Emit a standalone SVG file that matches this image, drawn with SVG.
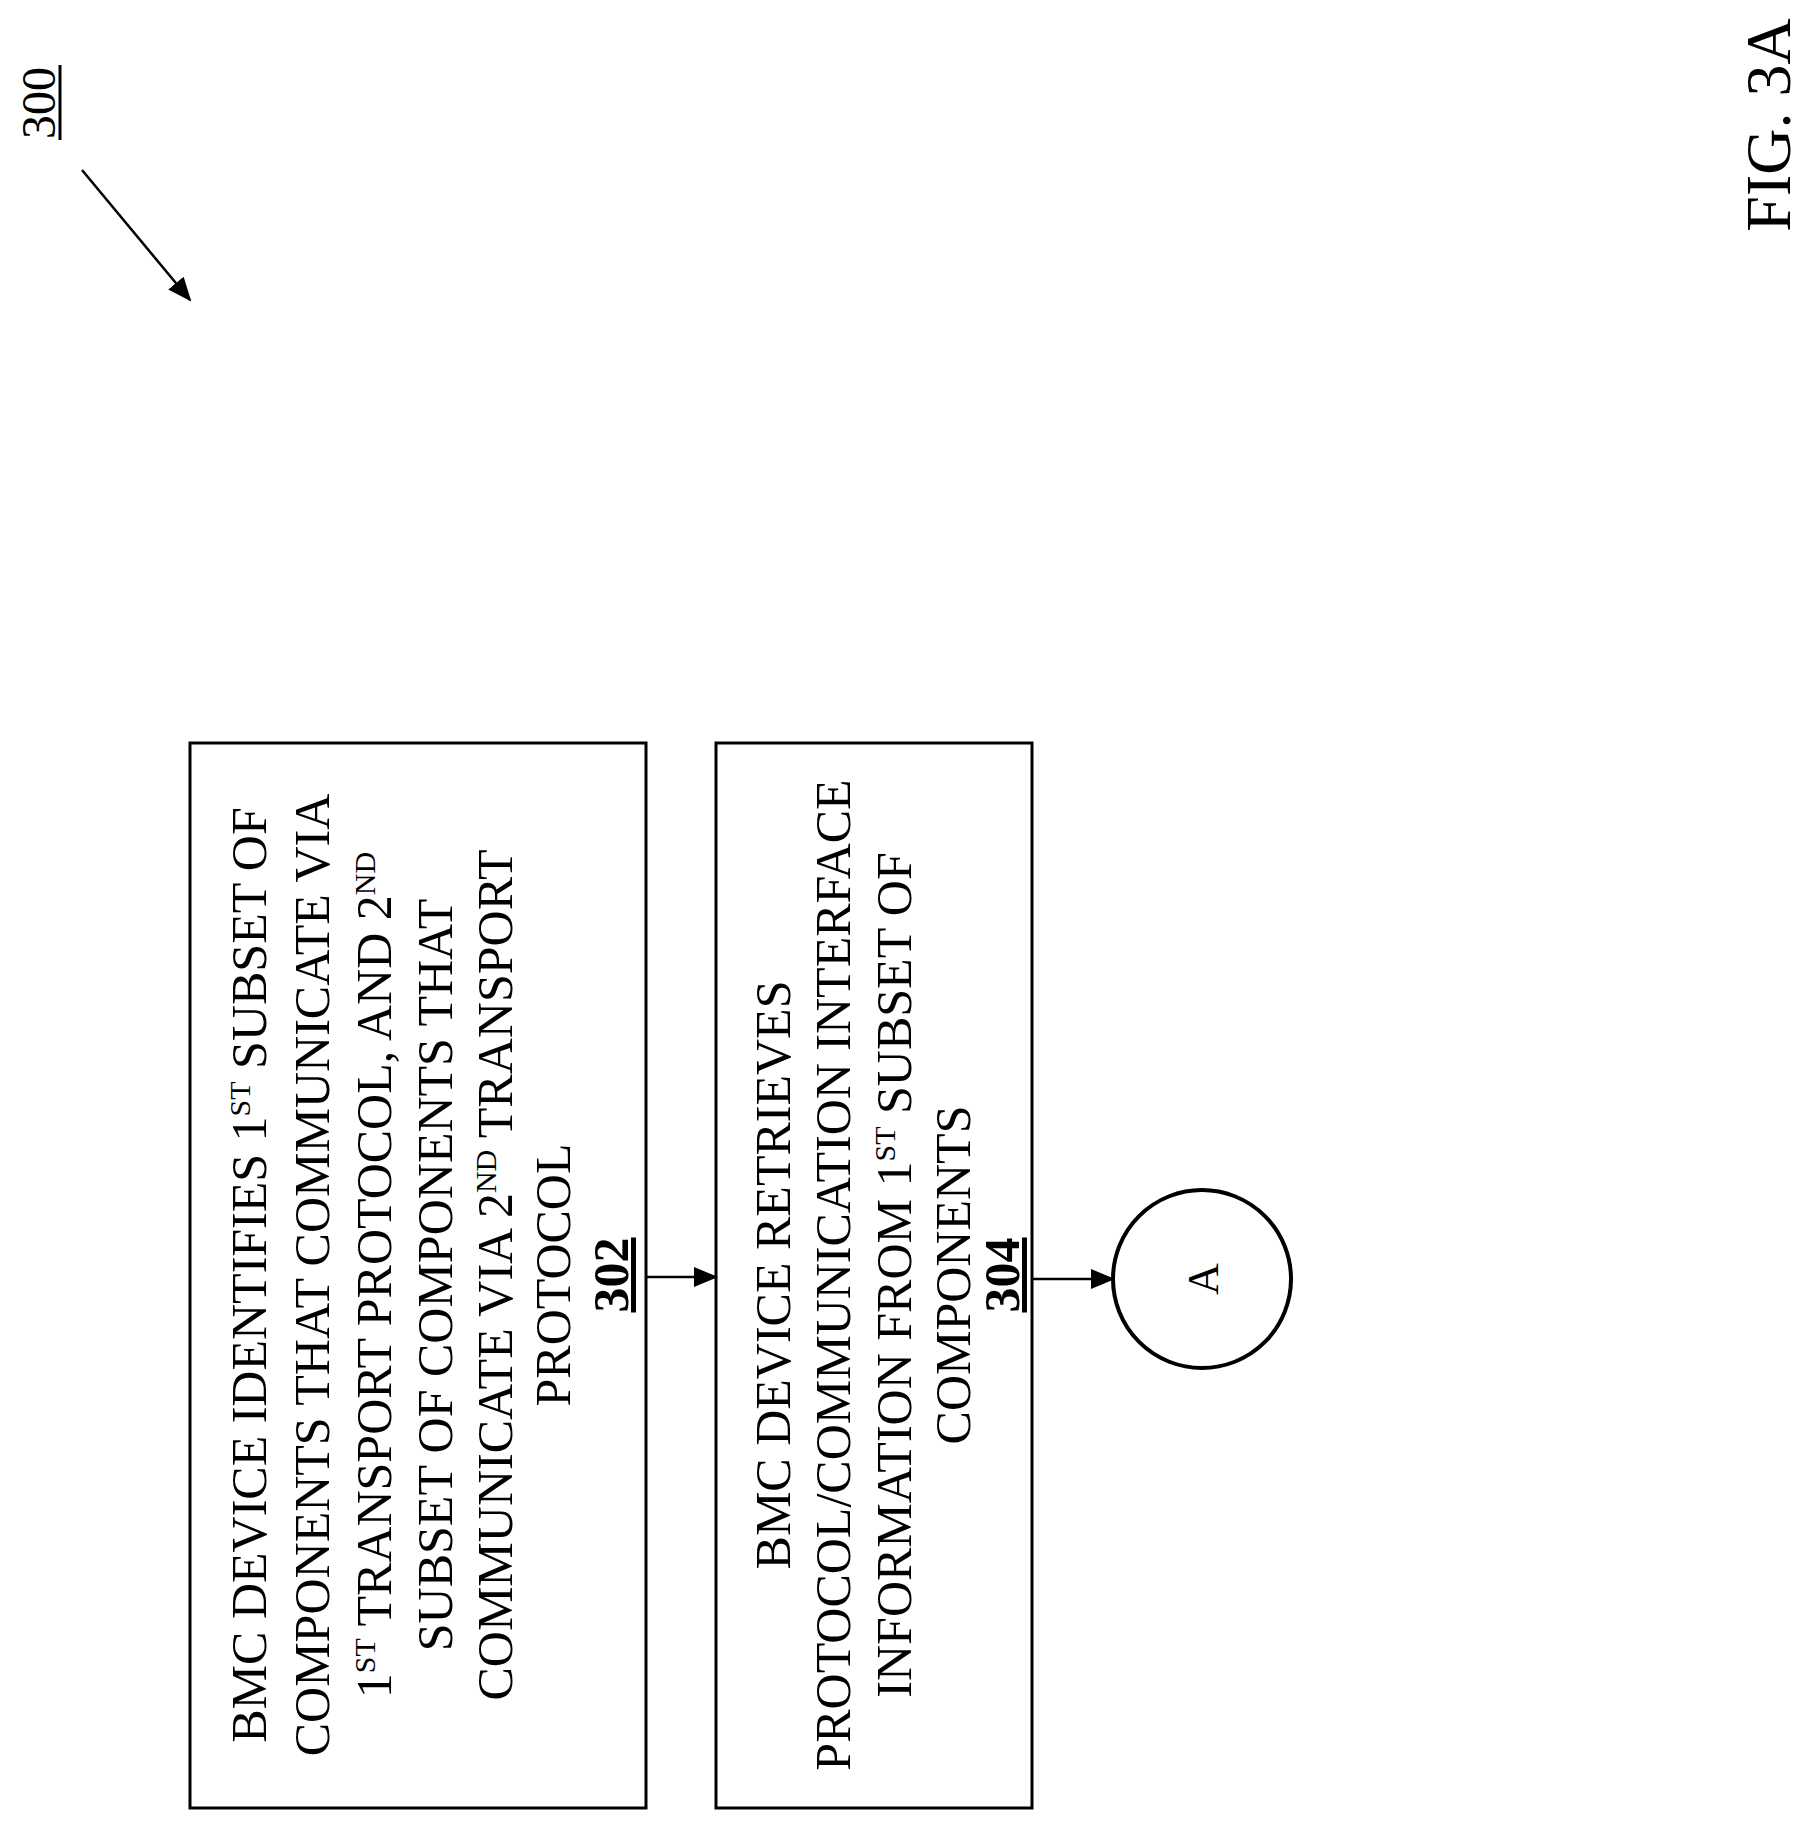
<svg xmlns="http://www.w3.org/2000/svg" width="1810" height="1835" viewBox="0 0 1810 1835">
<style>
text{font-family:"Liberation Serif","Times New Roman",serif;fill:#000}
.t{font-size:50px;text-anchor:middle}
.s{font-size:30px}
.box{fill:#fff;stroke:#000;stroke-width:3}
.c{stroke:#000;stroke-width:2.5;fill:none}
</style>
<defs>
<marker id="ah" markerWidth="10" markerHeight="8" refX="10" refY="4" orient="auto" markerUnits="userSpaceOnUse" viewBox="0 0 10 8">
<path d="M0,0L10,4L0,8Z" fill="#000"/>
</marker>
<marker id="ah2" markerWidth="24" markerHeight="20" refX="22" refY="10" orient="auto" markerUnits="userSpaceOnUse">
<path d="M0,0L24,10L0,20Z" fill="#000"/>
</marker>
</defs>
<g id="label300">
<text transform="translate(55,103) rotate(-90)" style="font-size:48px;text-anchor:middle">300</text>
<line x1="60" y1="65" x2="60" y2="140" stroke="#000" stroke-width="3"/>
</g>
<g id="fig">
<text transform="translate(1790,125) rotate(-90)" style="font-size:64px;text-anchor:middle">FIG. 3A</text>
</g>
<g id="n302">
<rect class="box" x="190" y="743" width="456" height="1065"/>
<g transform="translate(0,1275) rotate(-90)" class="t">
<text x="0" y="266">BMC DEVICE IDENTIFIES 1<tspan class="s" baseline-shift="super">ST</tspan> SUBSET OF</text>
<text x="0" y="329">COMPONENTS THAT COMMUNICATE VIA</text>
<text x="0" y="391">1<tspan class="s" baseline-shift="super">ST</tspan> TRANSPORT PROTOCOL, AND 2<tspan class="s" baseline-shift="super">ND</tspan></text>
<text x="0" y="452">SUBSET OF COMPONENTS THAT</text>
<text x="0" y="512">COMMUNICATE VIA 2<tspan class="s" baseline-shift="super">ND</tspan> TRANSPORT</text>
<text x="0" y="570">PROTOCOL</text>
<text x="0" y="628" font-weight="bold" text-decoration="underline">302</text>
</g>
</g>
<g id="n304">
<rect class="box" x="716" y="743" width="316" height="1065"/>
<g transform="translate(0,1275) rotate(-90)" class="t">
<text x="0" y="790">BMC DEVICE RETRIEVES</text>
<text x="0" y="850">PROTOCOL/COMMUNICATION INTERFACE</text>
<text x="0" y="911">INFORMATION FROM 1<tspan class="s" baseline-shift="super">ST</tspan> SUBSET OF</text>
<text x="0" y="970">COMPONENTS</text>
<text x="0" y="1019" font-weight="bold" text-decoration="underline">304</text>
</g>
</g>
<g id="nA">
<circle cx="1202" cy="1279" r="89" fill="#fff" stroke="#000" stroke-width="4"/>
<text transform="translate(1218,1279) rotate(-90)" style="font-size:44px;text-anchor:middle">A</text>
</g>
<g id="connectors">
<line class="c" x1="82" y1="170" x2="190" y2="300" marker-end="url(#ah2)"/>
<line class="c" x1="646" y1="1277" x2="716" y2="1277" marker-end="url(#ah2)"/>
<line class="c" x1="1032" y1="1279" x2="1113" y2="1279" marker-end="url(#ah2)"/>
</g>
</svg>
